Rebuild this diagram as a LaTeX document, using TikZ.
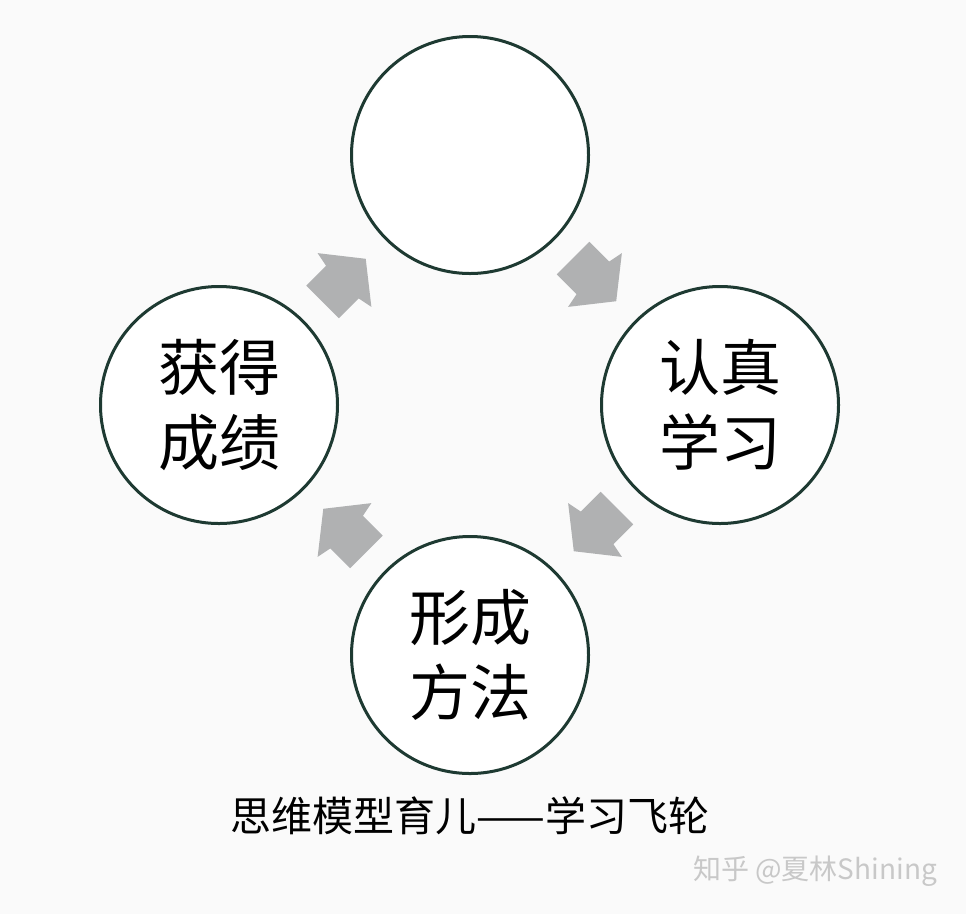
\documentclass[tikz,border=0pt]{standalone}
\usepackage{fontspec}
\newfontfamily\cjk{Noto Sans CJK SC}
\usetikzlibrary{calc}
\definecolor{RingClr}{RGB}{30,58,50}
\definecolor{ArrowClr}{RGB}{176,177,178}
\definecolor{PaperClr}{RGB}{250,250,250}
\definecolor{MarkClr}{RGB}{200,200,200}

\begin{document}
\begin{tikzpicture}[x=1pt,y=-1pt,
  ring/.style={circle,draw=RingClr,line width=3pt,fill=white,minimum size=237pt,inner sep=0pt,
    align=center,font=\cjk\fontsize{61}{75}\selectfont},
  flow/.pic={\fill[ArrowClr] (30,0) -- (0,38) -- (-3,23) -- (-31,23) -- (-31,-23) -- (-3,-23) -- (0,-38) -- cycle;}]
\fill[PaperClr] (0,0) rectangle (966,914);
\useasboundingbox (0,0) rectangle (966,914);

\node[ring] (top) at (470,155) {};
\node[ring] (right) at (720,405) {认真\\学习};
\node[ring] (bottom) at (470,655) {形成\\方法};
\node[ring] (left) at (219,405) {获得\\成绩};

\pic[rotate=45] at ($(left)!0.5!(top)$) {flow};
\pic[rotate=-45] at ($(top)!0.5!(right)$) {flow};
\pic[rotate=-135] at ($(right)!0.5!(bottom)$) {flow};
\pic[rotate=135] at ($(bottom)!0.5!(left)$) {flow};

\node[font=\cjk\fontsize{41}{41}\selectfont] (caption) at (470,816) {思维模型育儿——学习飞轮};
\node[font=\cjk\fontsize{28}{28}\selectfont,text=MarkClr] (mark) at (815,871) {知乎 @夏林Shining};

\end{tikzpicture}
\end{document}
